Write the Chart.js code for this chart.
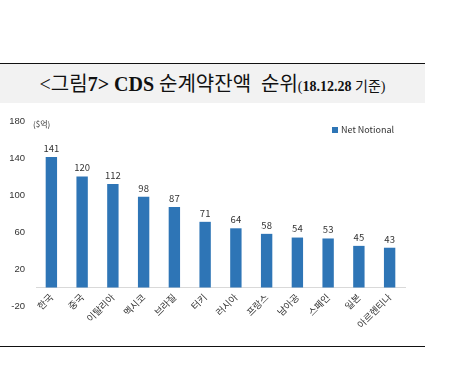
<!DOCTYPE html>
<html>
<head>
<meta charset="utf-8">
<script src="https://cdn.jsdelivr.net/npm/chart.js@4"></script>
<style>
  body { margin: 0; width: 451px; height: 385px; background: #fff; position: relative; overflow: hidden; }
  .title__box {
    position: absolute; left: 0; top: 63px; width: 425px; height: 39px;
    background: #f2f2f2; border-top: 1.5px solid #111;
    text-align: center; line-height: 40px; white-space: nowrap;
    font-family: "Liberation Serif", "Noto Sans CJK KR", serif; font-size: 20px; color: #111;
  }
  .title__box b { font-weight: bold; }
  .title__box small { font-size: 14px; }
  .bottom__line { position: absolute; left: 0; top: 346px; width: 425px; border-top: 1.5px solid #111; }
  .chart__wrap { position: absolute; left: 0; top: 104px; width: 425px; height: 240px; }
</style>
</head>
<body>
<div class="title__box">&lt;그림<b>7&gt; CDS</b> 순계약잔액&nbsp; 순위<small>(<b>18.12.28</b> 기준)</small></div>
<div class="chart__wrap"><canvas id="cds__canvas"></canvas></div>
<div class="bottom__line"></div>
<script>
const countries = ["한국", "중국", "이탈리아", "멕시코", "브라질", "터키", "러시아", "프랑스", "남아공", "스페인", "일본", "아르헨티나"];
const netNotional = [141, 120, 112, 98, 87, 71, 64, 58, 54, 53, 45, 43];
const yTicks = [-20, 20, 60, 100, 140, 180];
const seriesName = "Net Notional";
const barColor = "#2e75b6";

const LABEL_FONT = "Noto Sans CJK KR";

// values above bars, unit note and a legend drawn inside the plot
const extrasPlugin = {
  id: "extras",
  afterDatasetsDraw(chart) {
    const ctx = chart.ctx;
    const area = chart.chartArea;
    const yScale = chart.scales.y;
    ctx.save();
    ctx.font = "9.5px " + LABEL_FONT;
    ctx.fillStyle = "#333";
    ctx.textAlign = "center";
    ctx.textBaseline = "bottom";
    chart.getDatasetMeta(0).data.forEach((bar, i) => {
      ctx.fillText(String(netNotional[i]), bar.x, bar.y - 4);
    });
    ctx.textAlign = "left";
    ctx.textBaseline = "middle";
    ctx.font = "8px " + LABEL_FONT;
    ctx.fillText("($억)", area.left - 3, yScale.getPixelForValue(180) + 3);

    // legend, top right of the plot
    const lx = area.right - 73;
    const ly = yScale.getPixelForValue(180) + 9;
    ctx.fillStyle = barColor;
    ctx.fillRect(lx, ly - 3, 6, 6);
    ctx.fillStyle = "#333";
    ctx.font = "9px " + LABEL_FONT;
    ctx.fillText(seriesName, lx + 9, ly);
    ctx.restore();
  },
};

function makeChart() {
  const CANVAS_CTX = document.getElementById("cds__canvas").getContext("2d");
  return new Chart(CANVAS_CTX, {
    type: "bar",
    data: {
      labels: countries,
      datasets: [{
        label: seriesName,
        data: netNotional,
        backgroundColor: barColor,
        categoryPercentage: 1,
        barPercentage: 0.37,
      }],
    },
    options: {
      responsive: false,
      animation: false,
      devicePixelRatio: 1,
      layout: { padding: { left: 0, right: 20, top: 17, bottom: 38 } },
      plugins: {
        tooltip: { enabled: false },
        legend: { display: false },
      },
      scales: {
        x: {
          position: { y: 0 },
          grid: { display: false, drawTicks: false },
          border: { color: "#d9d9d9", width: 1 },
          ticks: {
            minRotation: 45, maxRotation: 45, padding: 4,
            color: "#333",
            font: { family: LABEL_FONT, size: 9.5 },
          },
        },
        y: {
          min: -20, max: 180,
          afterBuildTicks(axis) { axis.ticks = yTicks.map((v) => ({ value: v })); },
          afterFit(axis) { axis.width = 36; },
          grid: { display: false, drawTicks: false },
          border: { display: false },
          ticks: {
            padding: 11,
            color: "#333",
            font: { family: "Liberation Sans", size: 9.5 },
          },
        },
      },
    },
    plugins: [extrasPlugin],
  });
}

const canvas = document.getElementById("cds__canvas");
canvas.width = 425;
canvas.height = 240;
const chart = makeChart();
</script>
</body>
</html>
